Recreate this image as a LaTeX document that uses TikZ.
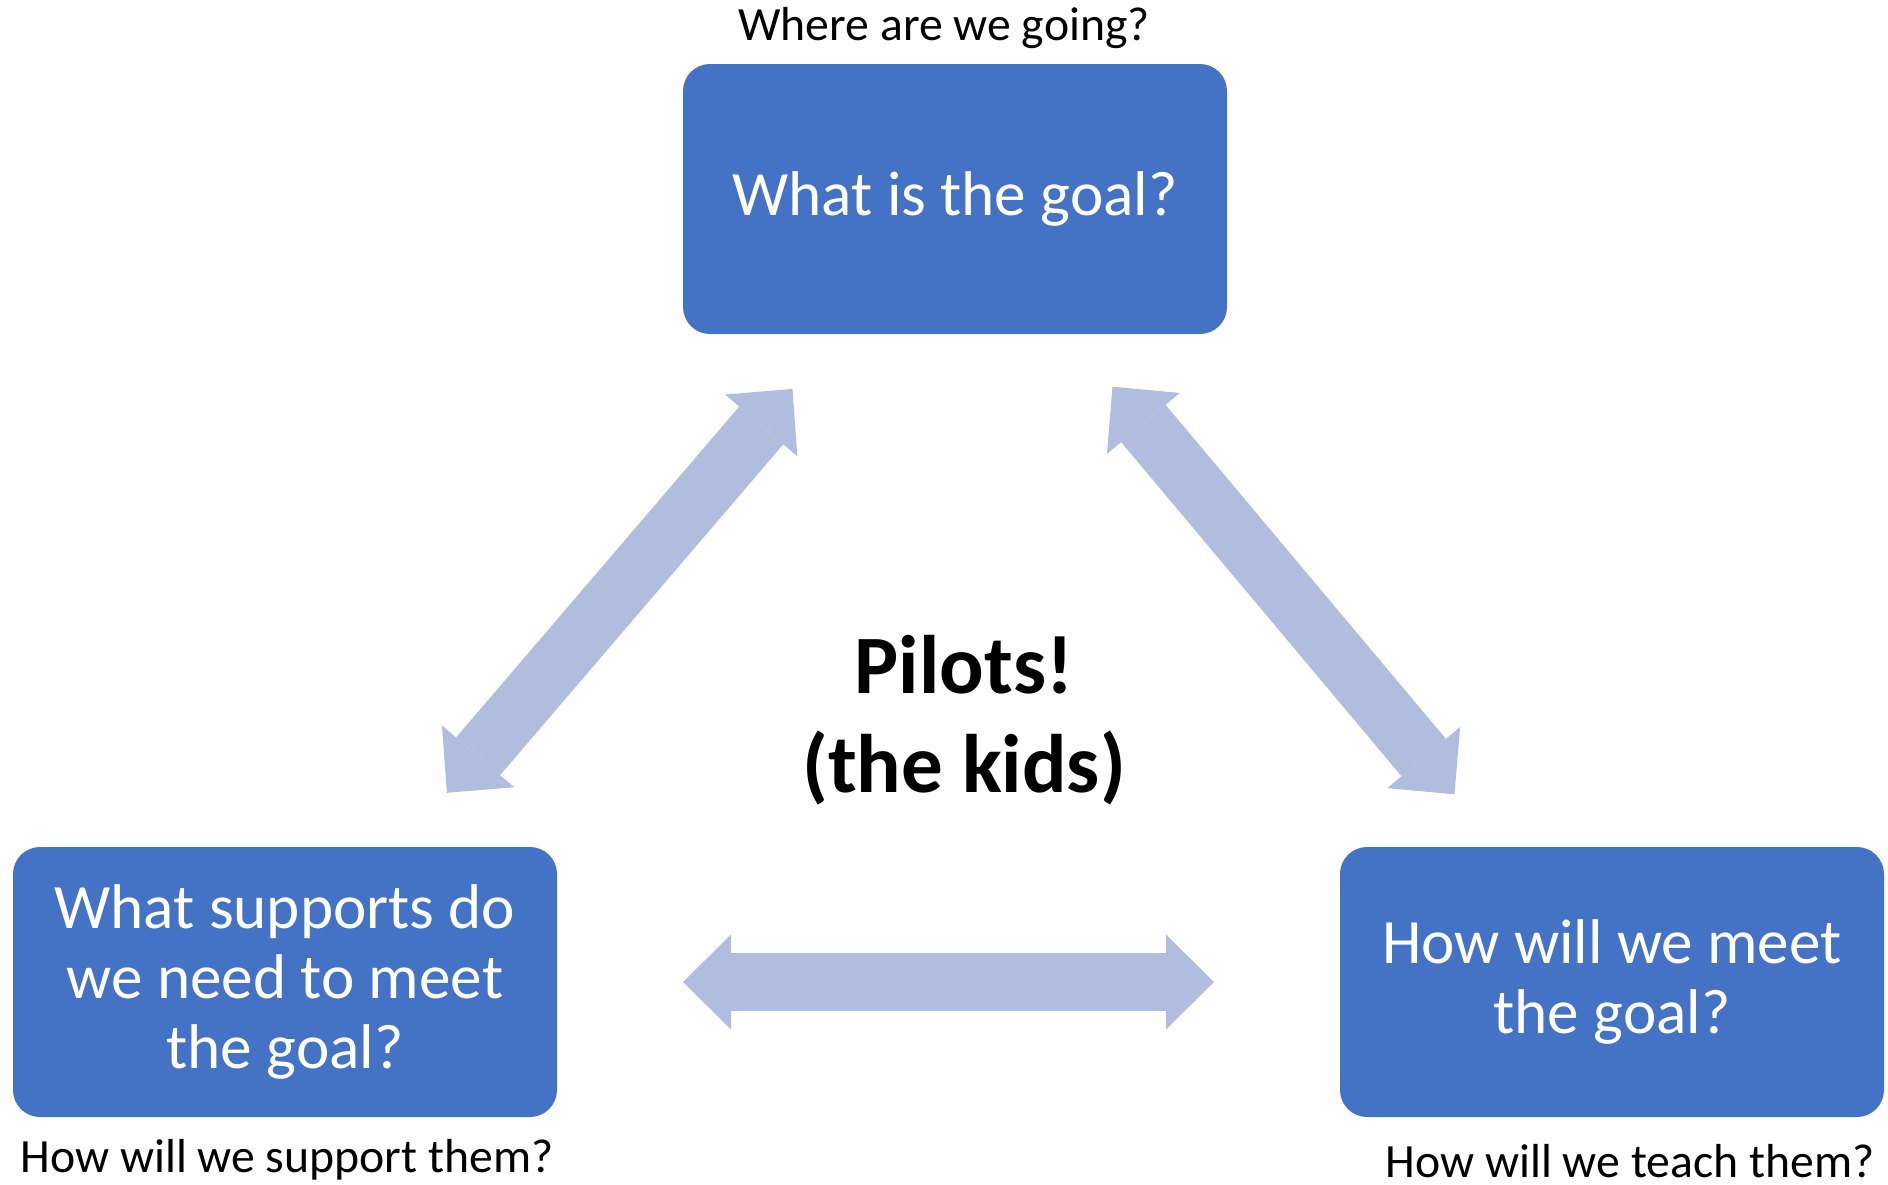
\documentclass[tikz,border=0pt]{standalone}
\usepackage{fontspec}
\setmainfont{Carlito}
\usetikzlibrary{arrows.meta,positioning}

\definecolor{boxBlue}{HTML}{4472C4}
\definecolor{arrowBlue}{HTML}{B0BDDF}

\def\boxWidth{544}
\def\boxHeight{270}
\def\shaftWidth{58}

\tikzset{
  question/.style={fill=boxBlue,text=white,rounded corners=27pt,minimum width=\boxWidth pt,minimum height=\boxHeight pt,
    inner sep=0pt,align=center,font=\fontsize{63.2}{70}\selectfont},
  subtitle/.style={anchor=base,inner sep=0pt,font=\fontsize{47.7}{57}\selectfont},
  twoway/.style={draw=arrowBlue,line width=\shaftWidth pt,
    {Triangle[length=48pt,width=95pt,line width=0pt]}-{Triangle[length=48pt,width=95pt,line width=0pt]}}
}

\begin{document}
\begin{tikzpicture}[x=1pt,y=-1pt]
    \useasboundingbox (0,0) rectangle (1888,1184);

    \node[question] (goal) at (955,199) {What is the goal?};
    \node[question] (support) at (285,982) {What supports do\\we need to meet\\the goal?};
    \node[question] (teach) at (1612,982) {How will we meet\\the goal?};

    \node[subtitle] (whereTo) at (944,40) {Where are we going?};
    \node[subtitle] (supportHow) at (287,1172) {How will we support them?};
    \node[subtitle] (teachHow) at (1630,1177) {How will we teach them?};

    \node[align=center,font=\fontsize{83}{99}\selectfont\bfseries] (pilots) at (964,720) {Pilots!\\(the kids)};

    \draw[twoway,shorten <=250pt,shorten >=249pt] (goal.center) -- (support.center);
    \draw[twoway,shorten <=245pt,shorten >=245pt] (goal.center) -- (teach.center);
    \draw[twoway,shorten <=398pt,shorten >=398pt] (support.center) -- (teach.center);
  \end{tikzpicture}
\end{document}
